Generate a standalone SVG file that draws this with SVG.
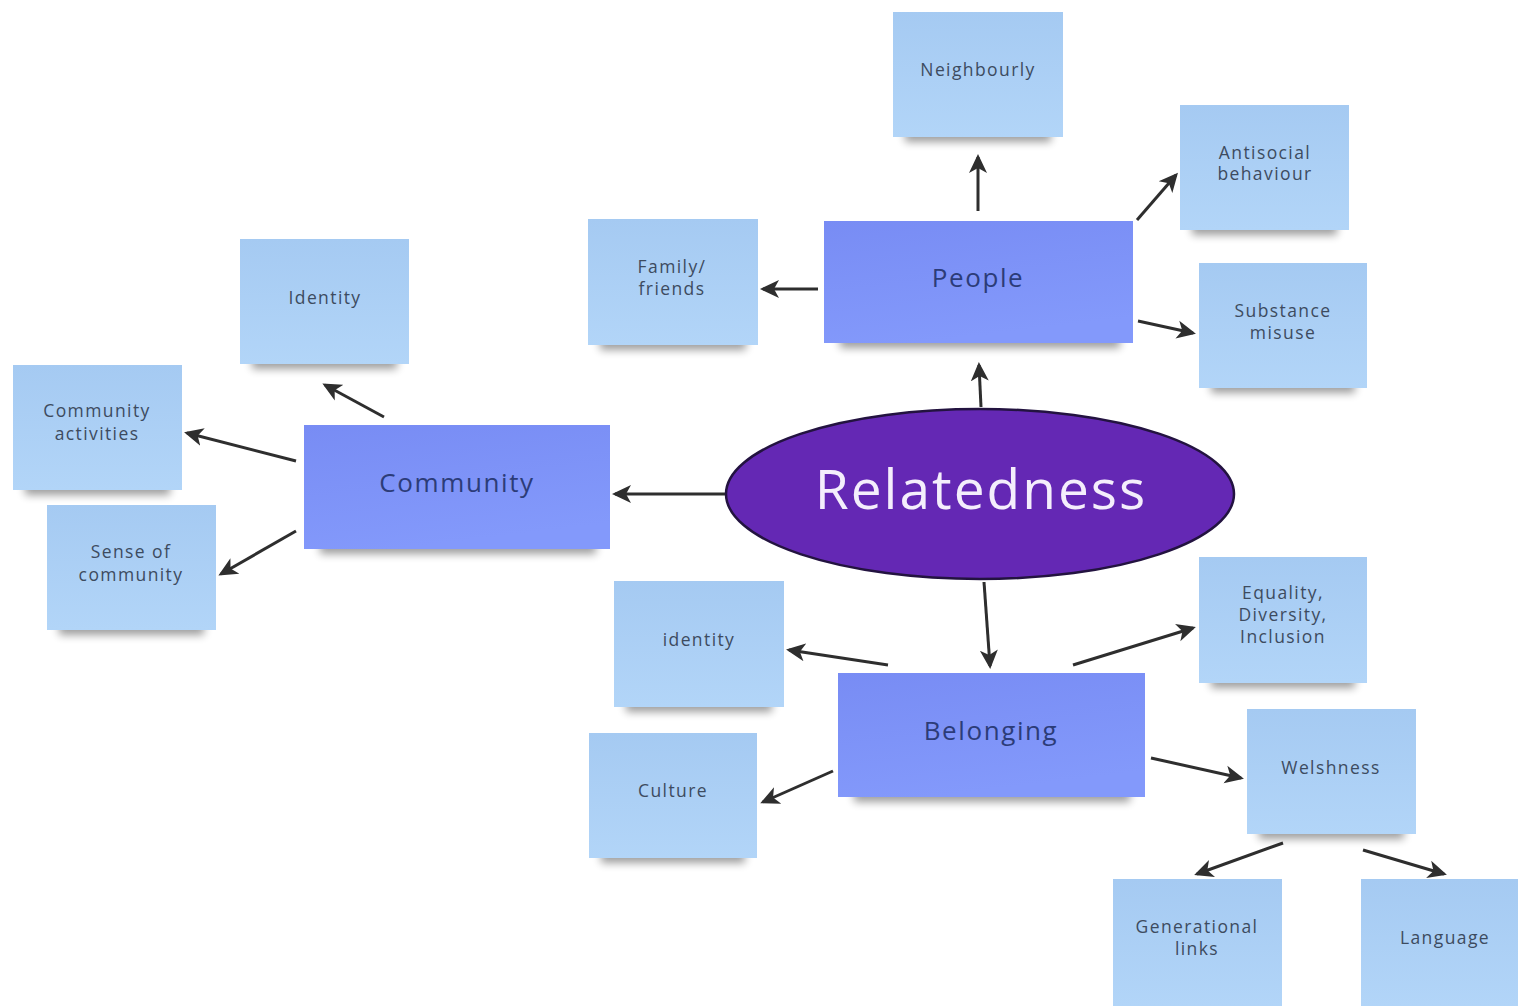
<svg xmlns="http://www.w3.org/2000/svg" width="1518" height="1006" viewBox="0 0 1518 1006">
<defs>
<linearGradient id="gNote" x1="0" y1="0" x2="0" y2="1"><stop offset="0" stop-color="#a5caf2"/><stop offset="1" stop-color="#b2d5f8"/></linearGradient>
<linearGradient id="gMain" x1="0" y1="0" x2="0.3" y2="1"><stop offset="0" stop-color="#788cf4"/><stop offset="1" stop-color="#8399fb"/></linearGradient>
<filter id="blur" x="-20%" y="-100%" width="140%" height="300%"><feGaussianBlur stdDeviation="4"/></filter>
<marker id="ah" viewBox="0 0 20 20" refX="16" refY="10" markerWidth="20" markerHeight="20" markerUnits="userSpaceOnUse" orient="auto">
<path d="M0,1 L19,10 L0,19 L5,10 z" fill="#2e2e2e"/>
</marker>
<style>
.note{fill:url(#gNote)}
.main{fill:url(#gMain)}
.sh{fill:#000;opacity:.38;filter:url(#blur)}
.nt{font-family:"Open Sans","Noto Sans",sans-serif;font-size:17.5px;fill:#3d4b5f;text-anchor:middle;letter-spacing:1.4px}
.mt{font-family:"Open Sans","Noto Sans",sans-serif;font-size:26px;fill:#2c3c78;text-anchor:middle;letter-spacing:1.6px}
.cn{stroke:#2e2e2e;stroke-width:3;fill:none;marker-end:url(#ah)}
</style>
</defs>
<rect width="1518" height="1006" fill="#ffffff"/>

<g id="connectors">
<line class="cn" x1="981" y1="407" x2="979" y2="365"/>
<line class="cn" x1="978" y1="211" x2="978" y2="157"/>
<line class="cn" x1="818" y1="289" x2="763" y2="289"/>
<line class="cn" x1="1137" y1="220" x2="1176" y2="175"/>
<line class="cn" x1="1138" y1="321" x2="1193" y2="333"/>
<line class="cn" x1="725" y1="494" x2="615" y2="494"/>
<line class="cn" x1="384" y1="417" x2="325" y2="385"/>
<line class="cn" x1="296" y1="461" x2="187" y2="433"/>
<line class="cn" x1="296" y1="531" x2="221" y2="574"/>
<line class="cn" x1="984" y1="582" x2="990" y2="666"/>
<line class="cn" x1="888" y1="665" x2="789" y2="650"/>
<line class="cn" x1="1073" y1="665" x2="1193" y2="628"/>
<line class="cn" x1="833" y1="771" x2="763" y2="802"/>
<line class="cn" x1="1151" y1="758" x2="1241" y2="778"/>
<line class="cn" x1="1283" y1="843" x2="1197" y2="874"/>
<line class="cn" x1="1363" y1="850" x2="1444" y2="874"/>
</g>

<g id="relatedness">
<ellipse cx="980" cy="494" rx="254" ry="85" fill="#6428b4" stroke="#231340" stroke-width="2.5"/>
<text x="981" y="509" font-family="'Open Sans','Noto Sans',sans-serif" font-size="55" fill="#f4eefc" text-anchor="middle" letter-spacing="2">Relatedness</text>
</g>

<g id="people">
<rect class="sh" x="840" y="330" width="280" height="18"/>
<rect class="main" x="824" y="221" width="309" height="122"/>
<text class="mt" x="978" y="287">People</text>
</g>
<g id="community">
<rect class="sh" x="320" y="536" width="276" height="18"/>
<rect class="main" x="304" y="425" width="306" height="124"/>
<text class="mt" x="457" y="492">Community</text>
</g>
<g id="belonging">
<rect class="sh" x="854" y="784" width="276" height="18"/>
<rect class="main" x="838" y="673" width="307" height="124"/>
<text class="mt" x="991" y="740">Belonging</text>
</g>

<g id="neighbourly">
<rect class="sh" x="905" y="126" width="146" height="16"/>
<rect class="note" x="893" y="12" width="170" height="125"/>
<text class="nt" x="978" y="76">Neighbourly</text>
</g>
<g id="antisocial">
<rect class="sh" x="1192" y="219" width="145" height="16"/>
<rect class="note" x="1180" y="105" width="169" height="125"/>
<text class="nt" x="1265" y="159">Antisocial</text>
<text class="nt" x="1265" y="180">behaviour</text>
</g>
<g id="family">
<rect class="sh" x="600" y="334" width="146" height="16"/>
<rect class="note" x="588" y="219" width="170" height="126"/>
<text class="nt" x="672" y="273">Family/</text>
<text class="nt" x="672" y="295">friends</text>
</g>
<g id="substance">
<rect class="sh" x="1211" y="377" width="144" height="16"/>
<rect class="note" x="1199" y="263" width="168" height="125"/>
<text class="nt" x="1283" y="317">Substance</text>
<text class="nt" x="1283" y="339">misuse</text>
</g>
<g id="identity1">
<rect class="sh" x="252" y="353" width="145" height="16"/>
<rect class="note" x="240" y="239" width="169" height="125"/>
<text class="nt" x="325" y="304">Identity</text>
</g>
<g id="community-activities">
<rect class="sh" x="25" y="479" width="145" height="16"/>
<rect class="note" x="13" y="365" width="169" height="125"/>
<text class="nt" x="97" y="417">Community</text>
<text class="nt" x="97" y="440">activities</text>
</g>
<g id="sense-of-community">
<rect class="sh" x="59" y="619" width="145" height="16"/>
<rect class="note" x="47" y="505" width="169" height="125"/>
<text class="nt" x="131" y="558">Sense of</text>
<text class="nt" x="131" y="581">community</text>
</g>
<g id="identity2">
<rect class="sh" x="626" y="696" width="146" height="16"/>
<rect class="note" x="614" y="581" width="170" height="126"/>
<text class="nt" x="699" y="646">identity</text>
</g>
<g id="culture">
<rect class="sh" x="601" y="847" width="144" height="16"/>
<rect class="note" x="589" y="733" width="168" height="125"/>
<text class="nt" x="673" y="797">Culture</text>
</g>
<g id="equality">
<rect class="sh" x="1211" y="672" width="144" height="16"/>
<rect class="note" x="1199" y="557" width="168" height="126"/>
<text class="nt" x="1283" y="599">Equality,</text>
<text class="nt" x="1283" y="621">Diversity,</text>
<text class="nt" x="1283" y="643">Inclusion</text>
</g>
<g id="welshness">
<rect class="sh" x="1259" y="823" width="145" height="16"/>
<rect class="note" x="1247" y="709" width="169" height="125"/>
<text class="nt" x="1331" y="774">Welshness</text>
</g>
<g id="generational">
<rect class="note" x="1113" y="879" width="169" height="127"/>
<text class="nt" x="1197" y="933">Generational</text>
<text class="nt" x="1197" y="955">links</text>
</g>
<g id="language">
<rect class="note" x="1361" y="879" width="157" height="127"/>
<text class="nt" x="1445" y="944">Language</text>
</g>
</svg>
